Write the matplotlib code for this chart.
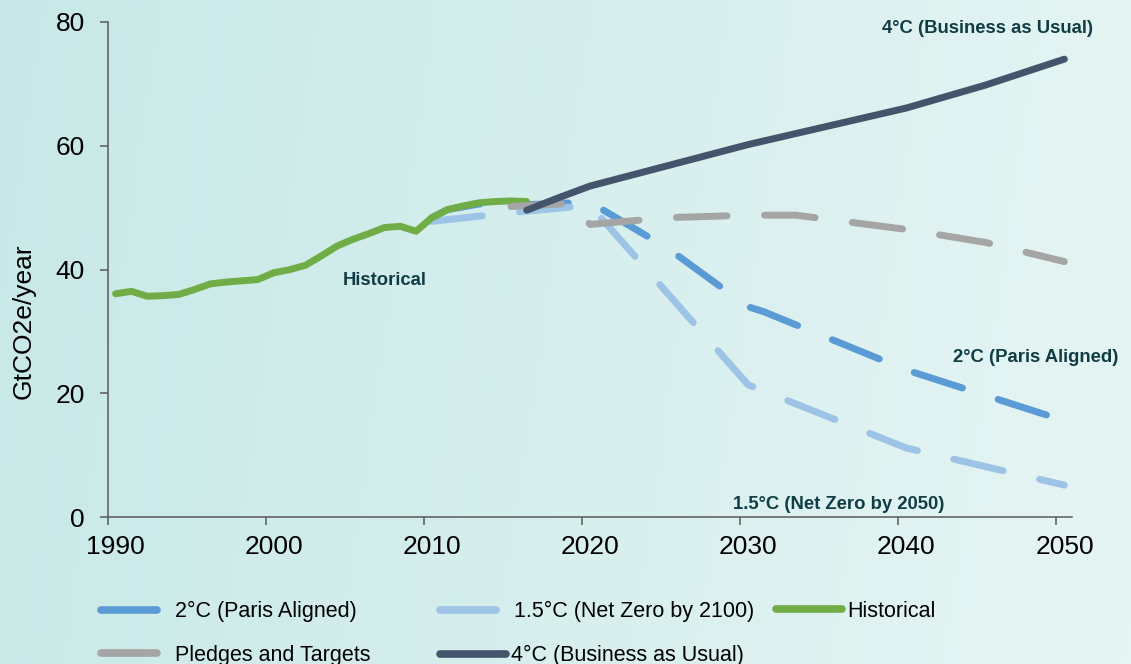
import matplotlib
matplotlib.use('Agg')
import matplotlib.pyplot as plt
import matplotlib.transforms as mtransforms
from matplotlib.lines import Line2D
import numpy as np

plt.rcParams['font.family'] = ['Liberation Sans', 'DejaVu Sans']

# ---------------- data (GtCO2e/year) ----------------
hist_years = [1990, 1991, 1992, 1993, 1994, 1995, 1996, 1997, 1998, 1999, 2000,
              2001, 2002, 2003, 2004, 2005, 2006, 2007, 2008, 2009, 2010, 2011,
              2012, 2013, 2014, 2015, 2016]
hist_vals = [36.1, 36.5, 35.7, 35.8, 36.0, 36.8, 37.7, 38.0, 38.2, 38.4, 39.5,
             40.0, 40.7, 42.2, 43.8, 44.9, 45.8, 46.8, 47.0, 46.2, 48.4, 49.7,
             50.3, 50.8, 51.0, 51.1, 51.0]

two_c_years = [2010, 2011, 2013, 2015, 2020, 2025, 2030, 2031, 2040, 2050]
two_c_vals = [48.4, 49.7, 50.6, 50.4, 50.9, 43.3, 34.0, 33.2, 23.8, 15.6]

one5_years = [2010, 2015, 2020, 2030, 2040, 2050]
one5_vals = [47.8, 49.2, 50.4, 21.4, 11.2, 5.2]

pledge_years = [2015, 2019, 2020, 2025, 2030, 2033, 2040, 2045, 2050]
pledge_vals = [50.2, 50.7, 47.3, 48.4, 48.8, 48.8, 46.5, 44.4, 41.3]

bau_years = [2016, 2018, 2020, 2030, 2040, 2045, 2050]
bau_vals = [49.6, 51.6, 53.5, 60.2, 66.1, 69.8, 74.0]

legend_labels = ['2°C (Paris Aligned)', '1.5°C (Net Zero by 2100)', 'Historical',
                 'Pledges and Targets', '4°C (Business as Usual)']
colors = ['#5b9bd5', '#9dc3e6', '#70ad47', '#a5a5a5', '#44546a']
dashed = [True, True, False, True, False]
series = [(two_c_years, two_c_vals), (one5_years, one5_vals), (hist_years, hist_vals),
          (pledge_years, pledge_vals), (bau_years, bau_vals)]

# points sit in the middle of each year slot (category style axis)
CAT_SHIFT = 0.5

fig = plt.figure(figsize=(11.31, 6.64), dpi=100)

# soft teal background wash
bg = fig.add_axes([0, 0, 1, 1], zorder=-1)
gx, gy = np.meshgrid(np.linspace(0, 1, 300), np.linspace(0, 1, 200))
c_left = np.array([0.78, 0.912, 0.905])
c_right = np.array([0.905, 0.962, 0.958])
t = np.clip(gx * 0.9 + gy * 0.08, 0, 1)
bg.imshow(c_left + (c_right - c_left) * t[..., None], aspect='auto', extent=[0, 1, 0, 1])
bg.axis('off')

ax = fig.add_axes([0.0952, 0.2209, 0.8529, 0.746])
ax.patch.set_visible(False)

for (yrs, vals), c, d in zip(series, colors, dashed):
    ax.plot(np.array(yrs) + CAT_SHIFT, vals, color=c, lw=5,
            ls=(0, (7.3, 5.4)) if d else '-',
            solid_capstyle='round', dash_capstyle='round',
            solid_joinstyle='round', dash_joinstyle='round', clip_on=False)

ax.set_xlim(1990, 2051)
ax.set_ylim(0, 80)
ax.set_xticks(range(1990, 2051, 10))
ax.set_yticks(range(0, 81, 20))
for s in ['top', 'right']:
    ax.spines[s].set_visible(False)
for s in ['left', 'bottom']:
    ax.spines[s].set_color('#595959')
    ax.spines[s].set_linewidth(1.1)
ax.tick_params(direction='out', length=5.5, width=1.1, color='#595959', labelsize=19)
ax.tick_params(axis='x', pad=7)
ax.tick_params(axis='y', pad=11)
shift = mtransforms.ScaledTranslation(0.08, 0, fig.dpi_scale_trans)
for lab in ax.get_xticklabels():
    lab.set_transform(lab.get_transform() + shift)

ax.set_ylabel('GtCO2e/year', fontsize=19)
ax.yaxis.set_label_coords(-0.075, 0.395)

note_kw = dict(fontsize=13.3, fontweight='bold', color='#103d43', va='center', clip_on=False)
ax.text(2052.3, 78.9, '4°C (Business as Usual)', ha='right', **note_kw)
ax.text(2007.5, 38.2, 'Historical', ha='center', **note_kw)
ax.text(2043.45, 25.8, '2°C (Paris Aligned)', ha='left', **note_kw)
ax.text(2029.55, 2.15, '1.5°C (Net Zero by 2050)', ha='left', **note_kw)

# one legend per entry so each handle/text can sit where the original puts it
# (x of handle, top y, handle length, text pad)
leg_slots = [(0.0891, 0.0949, 2.6, 0.84),
             (0.3889, 0.0949, 2.6, 0.84),
             (0.6860, 0.0949, 3.07, 0.23),
             (0.0891, 0.0286, 2.6, 0.84),
             (0.3889, 0.0286, 3.07, 0.23)]
for lab, c, (x0, y0, hl, hp) in zip(legend_labels, colors, leg_slots):
    h = Line2D([0], [0], color=c, lw=5.5, solid_capstyle='round')
    fig.legend([h], [lab], loc='upper left', bbox_to_anchor=(x0, y0), frameon=False,
               fontsize=15.5, handlelength=hl, handletextpad=hp, borderpad=0,
               borderaxespad=0)

fig.savefig('out.png', dpi=100)
